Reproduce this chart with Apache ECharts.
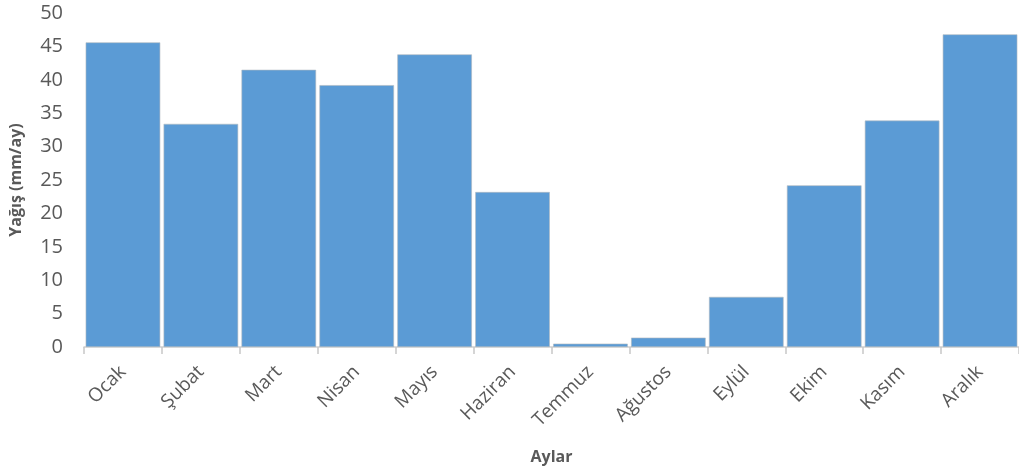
<!DOCTYPE html>
<html>
<head>
<meta charset="utf-8">
<script src="https://cdn.jsdelivr.net/npm/echarts@6/dist/echarts.min.js"></script>
<style>html,body{margin:0;padding:0;background:#fff;}#c{width:1019px;height:470px;}</style>
</head>
<body>
<div id="c"></div>
<script>
const months = ['Ocak','Şubat','Mart','Nisan','Mayıs','Haziran','Temmuz','Ağustos','Eylül','Ekim','Kasım','Aralık'];
const rainfall = [45.6, 33.4, 41.5, 39.2, 43.8, 23.2, 0.5, 1.4, 7.5, 24.2, 33.9, 46.8];
const yTicks = [0, 5, 10, 15, 20, 25, 30, 35, 40, 45, 50];
const xTitle = 'Aylar';
const yTitle = 'Yağış (mm/ay)';

const chart = echarts.init(document.getElementById('c'), null, {renderer: 'canvas'});
const font = '"Open Sans", sans-serif';
chart.setOption({
  animation: false,
  grid: {left: 78, right: 0, top: 13, bottom: 123, containLabel: false},
  xAxis: {
    type: 'category',
    data: months,
    name: xTitle,
    nameLocation: 'middle',
    nameGap: 102,
    nameTextStyle: {fontFamily: font, fontSize: 16, fontWeight: 'bold', color: '#595959'},
    axisLine: {lineStyle: {color: '#D0D0D0', width: 1.5}},
    axisTick: {show: true, length: 7, lineStyle: {color: '#C8C8C8', width: 1.5}},
    axisLabel: {rotate: 45, margin: 22, fontFamily: font, fontSize: 19, color: '#595959'}
  },
  yAxis: {
    type: 'value',
    min: yTicks[0],
    max: yTicks[yTicks.length - 1],
    interval: 5,
    name: yTitle,
    nameLocation: 'middle',
    nameGap: 60,
    nameTextStyle: {fontFamily: font, fontSize: 16, fontWeight: 'bold', color: '#595959'},
    axisLine: {show: false},
    axisTick: {show: false},
    splitLine: {show: false},
    axisLabel: {margin: 21, fontFamily: font, fontSize: 20, color: '#595959'}
  },
  series: [{
    type: 'bar',
    data: rainfall,
    barCategoryGap: '4.3%',
    itemStyle: {color: '#5B9BD5', borderColor: '#B0B8C0', borderWidth: 0.6}
  }]
});
</script>
</body>
</html>
